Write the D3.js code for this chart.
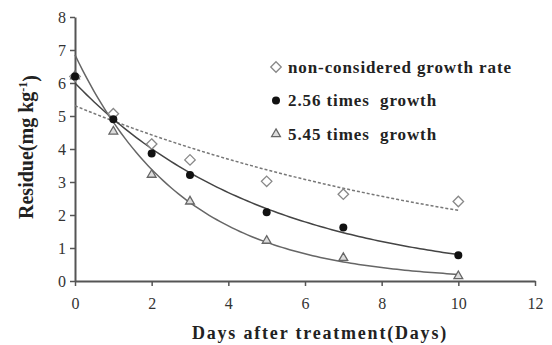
<!DOCTYPE html>
<html>
<head>
<meta charset="utf-8">
<script src="https://cdn.jsdelivr.net/npm/d3@7"></script>
<style>
  body { margin: 0; background: #fff; }
  svg text { font-family: "Liberation Serif", "DejaVu Serif", serif; }
</style>
</head>
<body>
<svg id="chart" width="552" height="345"></svg>
<script>
// measured residues, mg/kg
var days = [0, 1, 2, 3, 5, 7, 10];
var nonConsidered = [6.2, 5.07, 4.15, 3.67, 3.02, 2.63, 2.41];
var growth256 = [6.2, 4.9, 3.86, 3.21, 2.08, 1.62, 0.78];
var growth545 = [6.2, 4.53, 3.22, 2.41, 1.22, 0.7, 0.15];

// exponential trend lines: [C0, k] for C0 * exp(-k t)
var fitNon = [5.31, 0.0909];
var fit256 = [6.0, 0.2015];
var fit545 = [6.85, 0.353];

var xTicks = [0, 2, 4, 6, 8, 10, 12];
var yTicks = [0, 1, 2, 3, 4, 5, 6, 7, 8];
var seriesNames = ["non-considered growth rate", "2.56 times  growth", "5.45 times  growth"];

var margin = {top: 17, right: 17, bottom: 64, left: 75},
    width = 552 - margin.left - margin.right,
    height = 345 - margin.top - margin.bottom;

var svg = d3.select("#chart");
var g = svg.append("g")
    .attr("transform", "translate(" + margin.left + "," + margin.top + ")");

var x = d3.scaleLinear().domain([0, 12]).range([0, width]);
var y = d3.scaleLinear().domain([0, 8]).range([height, 0]);

var axisColor = "#555";

var xAxis = g.append("g")
    .attr("transform", "translate(0," + height + ")")
    .call(d3.axisBottom(x).tickValues(xTicks).tickSize(5).tickSizeOuter(0));
var yAxis = g.append("g")
    .call(d3.axisLeft(y).tickValues(yTicks).tickSize(5).tickSizeOuter(0));

[xAxis, yAxis].forEach(function (a) {
    a.select(".domain").attr("stroke", axisColor).attr("stroke-width", 2);
    a.selectAll(".tick line").attr("stroke", axisColor).attr("stroke-width", 1.5);
    a.selectAll(".tick text")
        .attr("fill", "#333")
        .style("font-size", "16px")
        .style("font-family", "Liberation Serif, serif");
});
xAxis.selectAll(".tick text").attr("dy", "1.25em");
yAxis.selectAll(".tick text").attr("x", -9);

// fitted curves
var tRange = d3.range(0, 10.01, 0.1);
function curve(fit) {
    return tRange.map(function (t) { return [t, fit[0] * Math.exp(-fit[1] * t)]; });
}
var line = d3.line().x(function (d) { return x(d[0]); }).y(function (d) { return y(d[1]); });

g.append("path").attr("d", line(curve(fitNon)))
    .attr("fill", "none").attr("stroke", "#777").attr("stroke-width", 1.5)
    .attr("stroke-dasharray", "3,2");
g.append("path").attr("d", line(curve(fit256)))
    .attr("fill", "none").attr("stroke", "#444").attr("stroke-width", 1.5);
g.append("path").attr("d", line(curve(fit545)))
    .attr("fill", "none").attr("stroke", "#666").attr("stroke-width", 1.5);

// markers
var diamond = d3.symbol().type(d3.symbolDiamond2).size(70);
var tri = d3.symbol().type(d3.symbolTriangle2).size(55);

function drawMarkers(vals, sym, fill, stroke) {
    g.selectAll(null).data(days).enter().append("path")
        .attr("d", sym)
        .attr("transform", function (d, i) { return "translate(" + x(d) + "," + y(vals[i]) + ")"; })
        .attr("fill", fill).attr("stroke", stroke).attr("stroke-width", 1.3);
}
drawMarkers(nonConsidered, diamond, "#fff", "#888");
drawMarkers(growth545, tri, "#ddd", "#666");
g.selectAll(null).data(days).enter().append("circle")
    .attr("cx", function (d) { return x(d); })
    .attr("cy", function (d, i) { return y(growth256[i]); })
    .attr("r", 4).attr("fill", "#111");

// legend
var legend = svg.append("g").attr("transform", "translate(276,67)");
var legendRows = legend.selectAll("g").data(seriesNames).enter().append("g")
    .attr("transform", function (d, i) { return "translate(0," + (i * 33.5) + ")"; });
legendRows.append("text")
    .attr("x", 12).attr("y", 0).attr("dy", "0.35em")
    .style("font-size", "17px").style("font-weight", "bold")
    .style("letter-spacing", "0.9px")
    .attr("fill", "#222")
    .attr("xml:space", "preserve")
    .text(function (d) { return d; });
legend.append("path").attr("d", diamond).attr("fill", "#fff").attr("stroke", "#888").attr("stroke-width", 1.3);
legend.append("circle").attr("cy", 33.5).attr("r", 4).attr("fill", "#111");
legend.append("path").attr("d", tri).attr("transform", "translate(0,67)")
    .attr("fill", "#ddd").attr("stroke", "#666").attr("stroke-width", 1.3);

// axis titles
svg.append("text")
    .attr("x", 320).attr("y", 339)
    .attr("text-anchor", "middle")
    .style("font-size", "18px").style("font-weight", "bold")
    .style("letter-spacing", "1.8px").attr("fill", "#222")
    .text("Days after treatment(Days)");

var yt = svg.append("text")
    .attr("transform", "translate(33,147) rotate(-90)")
    .attr("text-anchor", "middle")
    .style("font-size", "20px").style("font-weight", "bold").attr("fill", "#222");
yt.append("tspan").text("Residue(mg kg");
yt.append("tspan").attr("dy", "-0.5em").style("font-size", "12px").text("-1");
yt.append("tspan").attr("dy", "0.5em").text(")");
</script>
</body>
</html>
